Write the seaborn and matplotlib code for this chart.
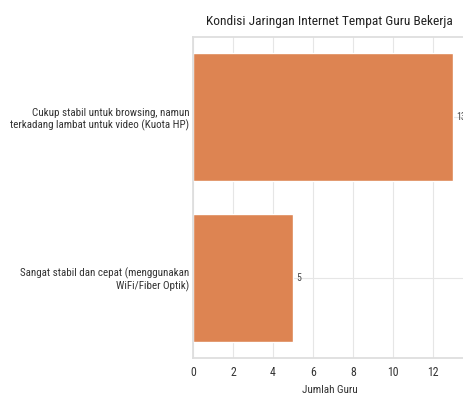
import matplotlib
matplotlib.use("Agg")
import matplotlib.pyplot as plt
import seaborn as sns
import pandas as pd

categories = [
    "Cukup stabil untuk browsing, namun\nterkadang lambat untuk video (Kuota HP)",
    "Sangat stabil dan cepat (menggunakan\nWiFi/Fiber Optik)",
]
counts = [13, 5]
title = "Kondisi Jaringan Internet Tempat Guru Bekerja"
xlabel = "Jumlah Guru"

sns.set_theme(style="whitegrid")
plt.rcParams['font.family'] = ['Roboto Condensed', 'DejaVu Sans']

df = pd.DataFrame({"Kondisi": categories, "Jumlah": counts})

fig = plt.figure(figsize=(4.63, 4.00), dpi=100)
ax = fig.add_axes([193/463, 42/400, 273/463, 321/400])
sns.barplot(data=df, y="Kondisi", x="Jumlah", color=sns.color_palette("deep")[1],
            saturation=1, width=0.8, ax=ax)
for c in ax.containers:
    ax.bar_label(c, padding=2, fontsize=7, color="#444444")
ax.set_title(title, fontsize=9.6, color="#222222", pad=9)
ax.set_xlabel(xlabel, fontsize=8, color="#333333", labelpad=4)
ax.set_ylabel("")
ax.tick_params(axis="y", labelsize=7.9, colors="#333333", pad=2.5, length=0)
ax.tick_params(axis="x", labelsize=8.5, colors="#333333", pad=6, length=0)
ax.set_xticks([0, 2, 4, 6, 8, 10, 12])
for s in ax.spines.values():
    s.set_color("#dddddd")
ax.grid(color="#e6e6e6", linewidth=0.8)
fig.savefig("out.png", dpi=100)
